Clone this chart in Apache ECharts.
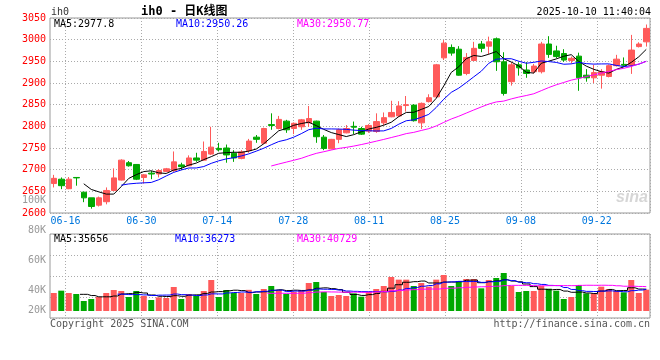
<!DOCTYPE html>
<html><head><meta charset="utf-8">
<script src="https://cdn.jsdelivr.net/npm/echarts@6/dist/echarts.min.js"></script>
<style>html,body{margin:0;padding:0;background:#fff}#c{width:660px;height:360px}</style>
</head><body><div id="c"></div>
<script>
const dates = ['06-13','06-16','06-17','06-18','06-19','06-20','06-23','06-24','06-25','06-26','06-27','06-30',
'07-01','07-02','07-03','07-04','07-07','07-08','07-09','07-10','07-11','07-14','07-15','07-16','07-17','07-18','07-21','07-22','07-23','07-24','07-25','07-28','07-29','07-30','07-31',
'08-01','08-04','08-05','08-06','08-07','08-08','08-11','08-12','08-13','08-14','08-15','08-18','08-19','08-20','08-21','08-22','08-25','08-26','08-27','08-28','08-29',
'09-01','09-02','09-03','09-04','09-05','09-08','09-09','09-10','09-11','09-12','09-15','09-16','09-17','09-18','09-19','09-22','09-23','09-24','09-25','09-26','09-29','09-30',
'10-09','10-10'];
const opens = [2668,2678,2656,2682,2648,2635,2618,2626,2652,2676,
2716,2712,2682,2692,2690,2696,2698,2711,2709,2727,
2722,2736,2749,2750,2738,2726,2744,2775,2761,2804,
2795,2812,2795,2799,2808,2812,2775,2748,2770,2785,
2800,2795,2789,2788,2808,2822,2824,2848,2849,2808,
2857,2868,2958,2982,2978,2922,2952,2990,2985,3002,
2949,2903,2942,2930,2926,2926,2990,2974,2968,2952,
2962,2918,2912,2918,2915,2940,2943,2941,2984,2995];
const closes = [2680,2663,2678,2681,2635,2615,2635,2652,2681,2722,
2709,2678,2688,2690,2698,2702,2718,2707,2727,2722,
2742,2752,2746,2734,2727,2741,2766,2770,2795,2802,
2816,2792,2807,2815,2818,2776,2749,2770,2792,2795,
2798,2782,2802,2811,2820,2832,2847,2850,2813,2853,
2866,2942,2992,2969,2918,2959,2980,2980,2995,2949,
2876,2942,2935,2922,2939,2990,2966,2961,2953,2957,
2912,2912,2924,2926,2940,2955,2941,2976,2990,3026];
const lows = [2659,2655,2655,2663,2625,2610,2615,2620,2652,2675,
2707,2676,2668,2678,2682,2694,2695,2699,2708,2718,
2721,2734,2742,2716,2718,2724,2739,2762,2759,2792,
2793,2785,2782,2792,2799,2762,2745,2747,2761,2784,
2782,2780,2785,2785,2803,2821,2822,2834,2811,2794,
2855,2865,2953,2963,2917,2918,2951,2971,2966,2928,
2871,2894,2917,2912,2922,2922,2958,2957,2949,2945,
2882,2903,2900,2887,2913,2938,2938,2921,2982,2984];
const highs = [2688,2682,2683,2683,2649,2635,2638,2659,2703,2724,
2720,2713,2690,2697,2701,2704,2742,2716,2733,2739,
2765,2799,2762,2758,2745,2745,2771,2780,2797,2830,
2824,2815,2809,2817,2847,2813,2780,2771,2795,2803,
2811,2799,2805,2830,2832,2859,2858,2870,2851,2855,
2874,2944,2999,2989,2985,2969,2995,2997,3007,3005,
2971,2948,2948,2948,2944,2995,3008,2986,2978,2961,
2970,2932,2942,2932,2943,2965,2959,3011,2994,3035];
const volumes = [32300,36500,32300,30500,18000,21500,25100,32300,37700,35900,
25100,35900,26900,19700,24500,23300,43100,21500,30500,26900,
35900,55700,25100,37700,32300,32300,38000,30500,39500,44900,
37700,30500,34100,37100,50300,52100,34100,26900,28700,26900,
31700,25700,34100,39500,44900,61000,56300,56300,44900,50300,
43700,56300,64600,44900,53300,57500,57500,40700,55700,59200,
68200,44900,34100,35900,35900,44900,40100,36500,21500,25100,
46700,31700,31700,43700,39500,35900,33500,55700,32300,38300];
const dateTickLabels = ['06-16','06-30','07-14','07-28','08-11','08-25','09-08','09-22'];
const priceHeader = ['MA5:2977.8','MA10:2950.26','MA30:2950.77'];
const volHeader = ['MA5:35656','MA10:36273','MA30:40729'];

const UP = '#ff5a5a', DOWN = '#00a800';
const MONO = '"DejaVu Sans Mono", "Liberation Mono", monospace';
const GRIDC = '#aaaaaa';
function ma(values, n) {
  return values.map((_, i) => {
    if (i < n - 1) return null;
    let s = 0; for (let k = i - n + 1; k <= i; k++) s += values[k];
    return +(s / n).toFixed(2);
  });
}
const candleData = opens.map((o, i) => [o, closes[i], lows[i], highs[i]]);
const volData = volumes.map((v, i) => ({ value: v, itemStyle: { color: closes[i] > opens[i] ? UP : DOWN } }));
const dotted = () => ({ show: true, lineStyle: { color: GRIDC, type: [1, 2], width: 1 } });
const hidden = () => ({ show: false });
const GX_MAX = 584.5 / 75.9;

const chart = echarts.init(document.getElementById('c'), null, { renderer: 'canvas' });
const txt = (x, y, text, fill, extra) => ({ type: 'text', x, y, silent: true, z: 10,
  style: Object.assign({ text, fill, font: '10px ' + MONO, align: 'left', verticalAlign: 'middle' }, extra || {}) });

chart.setOption({
  animation: false,
  backgroundColor: '#fff',
  grid: [
    { left: 50, right: 10, top: 18, height: 195, show: true, borderColor: '#999', borderWidth: 1, backgroundColor: 'transparent' },
    { left: 50, right: 10, top: 234, height: 84, show: true, borderColor: '#999', borderWidth: 1, backgroundColor: 'transparent' },
    { left: 65.5, right: 10, top: 18, height: 195 },
    { left: 65.5, right: 10, top: 234, height: 84 },
    { left: 50, right: 10, top: 200.7, height: 120 }
  ],
  xAxis: [
    { type: 'category', gridIndex: 0, data: dates, boundaryGap: true, show: false },
    { type: 'category', gridIndex: 1, data: dates, boundaryGap: true, show: false },
    { type: 'value', gridIndex: 2, min: 0, max: GX_MAX, interval: 1, axisLine: hidden(), axisTick: hidden(), splitLine: dotted(),
      axisLabel: { margin: 3, color: '#0077dd', fontSize: 10, fontFamily: MONO,
        formatter: v => Number.isInteger(v) && dateTickLabels[v] ? dateTickLabels[v] : '' } },
    { type: 'value', gridIndex: 3, min: 0, max: GX_MAX, interval: 1, axisLine: hidden(), axisTick: hidden(), axisLabel: hidden(), splitLine: dotted() },
    { type: 'value', gridIndex: 4, show: false, min: 0, max: 1 }
  ],
  yAxis: [
    { type: 'value', gridIndex: 0, min: 2600, max: 3050, interval: 50, axisLine: hidden(), axisTick: hidden(), splitLine: dotted(),
      axisLabel: { margin: 4, color: '#ff0000', fontSize: 10, fontFamily: MONO, formatter: v => String(v) } },
    { type: 'value', gridIndex: 1, min: -12567, max: 138240, show: false, splitLine: hidden() },
    { type: 'value', gridIndex: 1, min: 0, max: 4, interval: 1, axisLine: hidden(), axisTick: hidden(), axisLabel: hidden(), splitLine: dotted() },
    { type: 'value', gridIndex: 4, min: 20000, max: 100000, interval: 20000, axisLine: hidden(), axisTick: hidden(), splitLine: hidden(),
      axisLabel: { margin: 4, color: '#999', fontSize: 10, fontFamily: MONO,
        formatter: v => v === 20000 ? '{lo|20K}' : (v / 1000) + 'K',
        rich: { lo: { padding: [0, 0, 20, 0], color: '#999', fontSize: 10, fontFamily: MONO } } } },
    { type: 'value', gridIndex: 2, show: false, min: 0, max: 1 },
    { type: 'value', gridIndex: 3, show: false, min: 0, max: 1 }
  ],
  series: [
    { type: 'candlestick', xAxisIndex: 0, yAxisIndex: 0, data: candleData, barWidth: 6,
      itemStyle: { color: UP, color0: DOWN, borderColor: UP, borderColor0: DOWN, borderWidth: 1 } },
    { type: 'line', xAxisIndex: 0, yAxisIndex: 0, data: ma(closes, 5), symbol: 'none', lineStyle: { color: '#000', width: 1 } },
    { type: 'line', xAxisIndex: 0, yAxisIndex: 0, data: ma(closes, 10), symbol: 'none', lineStyle: { color: '#0000ff', width: 1 } },
    { type: 'line', xAxisIndex: 0, yAxisIndex: 0, data: ma(closes, 30), symbol: 'none', lineStyle: { color: '#ff00ff', width: 1 } },
    { type: 'bar', xAxisIndex: 1, yAxisIndex: 1, data: volData, barWidth: 6 },
    { type: 'line', xAxisIndex: 1, yAxisIndex: 1, data: ma(volumes, 5), step: 'middle', symbol: 'none', lineStyle: { color: '#000', width: 1 } },
    { type: 'line', xAxisIndex: 1, yAxisIndex: 1, data: ma(volumes, 10), step: 'middle', symbol: 'none', lineStyle: { color: '#0000ff', width: 1 } },
    { type: 'line', xAxisIndex: 1, yAxisIndex: 1, data: ma(volumes, 30), step: 'middle', symbol: 'none', lineStyle: { color: '#ff00ff', width: 1 } }
  ],
  graphic: [
    txt(51, 12.5, 'ih0', '#333'),
    txt(141, 11.5, 'ih0 - 日K线图', '#000', { font: 'bold 12px ' + MONO + ', "Noto Sans CJK SC"' }),
    txt(651, 12, '2025-10-10 11:40:04', '#000', { align: 'right' }),
    txt(54, 24, priceHeader[0], '#000'),
    txt(176, 24, priceHeader[1], '#0000ff'),
    txt(297, 24, priceHeader[2], '#ff00ff'),
    txt(54, 239, volHeader[0], '#000'),
    txt(175, 239, volHeader[1], '#0000ff'),
    txt(297, 239, volHeader[2], '#ff00ff'),
    txt(50, 324, 'Copyright 2025 SINA.COM', '#555'),
    txt(650, 324, 'http://finance.sina.com.cn', '#555', { align: 'right' }),
    txt(648, 198, 'sina', '#d6d6d6', { align: 'right', font: 'italic bold 16px "Liberation Sans", Arial, sans-serif' })
  ]
});
</script></body></html>
